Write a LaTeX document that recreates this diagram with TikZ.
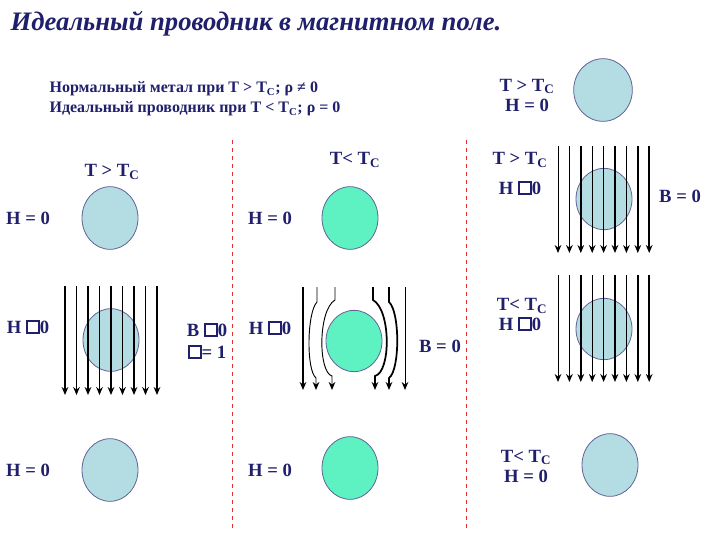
\documentclass[tikz,border=0pt]{standalone}
\usepackage{fontspec}
\setmainfont{Liberation Serif}
\usetikzlibrary{shapes.geometric,arrows.meta}
\definecolor{navy}{HTML}{1F1F6B}
\definecolor{lblue}{HTML}{B3DDE3}
\definecolor{aqua}{HTML}{5EF2C2}
\definecolor{dred}{HTML}{E03030}
\begin{document}
\begin{tikzpicture}[x=0.75pt,y=-0.75pt,
  lab/.style={text=navy,font=\bfseries\fontsize{14}{15}\selectfont,inner sep=1pt},
  ball/.style={draw=navy!70,fill=lblue,line width=0.6pt,ellipse,inner sep=0pt,minimum width=42pt,minimum height=47pt},
  sball/.style={ball,fill=aqua},
  fl/.style={-{Stealth[length=6pt,width=5pt]},line width=0.7pt},
  flt/.style={-{Stealth[length=6pt,width=5pt]},line width=1.3pt},
  sep/.style={dred,dashed,line width=0.6pt}]
\newcommand{\sq}{\tikz[baseline=0pt]\draw[navy,line width=1.3pt](0,0) rectangle (9pt,9pt);}
\useasboundingbox (0,0) rectangle (720,540);
\node[anchor=west,text=navy,font=\bfseries\itshape\fontsize{20}{22}\selectfont] (title) at (6,24) {Идеальный проводник в магнитном поле.};
\node[lab,anchor=west,font=\bfseries\fontsize{12}{13}\selectfont] (l1) at (48,89) {Нормальный метал при T > T\textsubscript{C}; ρ ≠ 0};
\node[lab,anchor=west,font=\bfseries\fontsize{12}{13}\selectfont] (l2) at (48,109) {Идеальный проводник при T < T\textsubscript{C}; ρ = 0};
\node[lab,align=center] (tr) at (527,95) {T > T\textsubscript{C}\\H = 0};
\node[ball,minimum width=44pt] (c0) at (603,90) {};
\draw[sep] (232,140) -- (232,530);
\draw[sep] (466,140) -- (466,530);
\node[lab] (h1) at (112,172) {T > T\textsubscript{C}};
\node[lab] (h2) at (355,160) {T< T\textsubscript{C}};
\node[lab] (h3) at (520,160) {T > T\textsubscript{C}};
\node[lab] (h3b) at (520,188) {H \sq0};
\node[lab] (b0r) at (680,196) {B = 0};
% left column
\node[lab] (a1) at (28,218) {H = 0};
\node[ball] (ca1) at (110,218) {};
\node[lab] (a2) at (28,327) {H \sq0};
\node[ball] (ca2) at (111,340) {};
\foreach \i in {0,...,8}{
  \pgfmathtruncatemacro{\t}{mod(\i,2)}
  \ifnum\t=0 \draw[flt] (65+\i*11.5,286) -- (65+\i*11.5,395);\else\draw[fl] (65+\i*11.5,286) -- (65+\i*11.5,395);\fi}
\node[lab] (a3) at (207,330) {B \sq0};
\node[lab] (a3b) at (207,352) {\sq= 1};
\node[lab] (a4) at (28,470) {H = 0};
\node[ball] (ca4) at (110,470) {};
% middle
\node[lab] (m1) at (270,218) {H = 0};
\node[sball] (cm1) at (350,218) {};
\node[lab] (m2) at (270,328) {H \sq0};
\node[sball,minimum height=46pt] (cm2) at (354,341) {};
\coordinate (s1) at (303,287); \coordinate (e1) at (303,390);
\coordinate (s6) at (405,287); \coordinate (e6) at (405,390);
\draw[flt] (s1) -- (e1);
\draw[fl] (s6) -- (e6);
\draw[fl] (317,287) -- (317,302) .. controls (307,312) and (306,370) .. (316,378) -- (316,390);
\draw[fl] (335,287) -- (335,300) .. controls (318,310) and (318,372) .. (332,376) -- (332,390);
\draw[flt] (373,287) -- (373,300) .. controls (391,310) and (391,372) .. (375,376) -- (375,390);
\draw[flt] (389,287) -- (389,302) .. controls (400,312) and (400,370) .. (389,378) -- (389,390);
\node[lab] (mb) at (440,346) {B = 0};
\node[lab] (m4) at (270,470) {H = 0};
\node[sball] (cm4) at (350,468) {};
% right
\node[ball,minimum height=46pt] (cr1) at (604,199) {};
\foreach \i in {0,...,8}{
  \pgfmathtruncatemacro{\t}{mod(\i,3)}
  \ifnum\t=0 \draw[fl] (558+\i*11.4,146) -- (558+\i*11.4,253);\else\draw[flt] (558+\i*11.4,146) -- (558+\i*11.4,253);\fi}
\node[lab] (r2) at (522,306) {T< T\textsubscript{C}};
\node[lab] (r2b) at (520,324) {H \sq0};
\node[ball,minimum height=46pt] (cr2) at (604,329) {};
\foreach \i in {0,...,8}{
  \pgfmathtruncatemacro{\t}{mod(\i,3)}
  \ifnum\t=0 \draw[fl] (558+\i*11.4,275) -- (558+\i*11.4,382);\else\draw[flt] (558+\i*11.4,275) -- (558+\i*11.4,382);\fi}
\node[lab,align=center] (r3) at (526,466) {T< T\textsubscript{C}\\H = 0};
\node[ball] (cr3) at (610,465) {};
\end{tikzpicture}
\end{document}
